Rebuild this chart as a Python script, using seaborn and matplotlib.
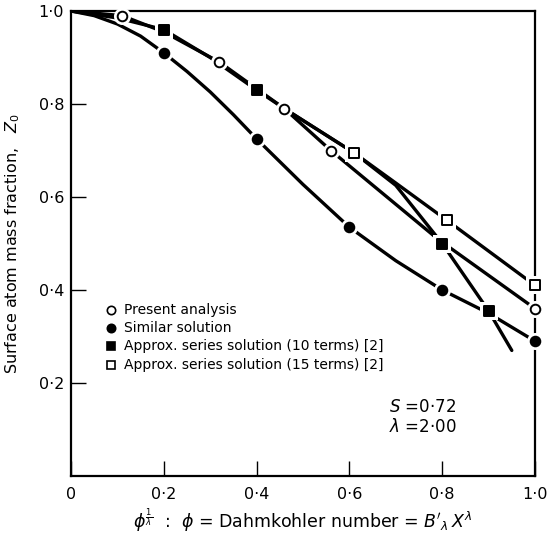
import matplotlib
matplotlib.use("Agg")
import matplotlib.pyplot as plt
import seaborn as sns
import pandas as pd

# ---- data ----
# Present analysis (open circles)
present_mx = [0.11, 0.32, 0.46, 0.56, 1.0]
present_my = [0.99, 0.89, 0.79, 0.70, 0.36]
present_lx = [0.0, 0.11, 0.2, 0.32, 0.46, 0.56, 0.79, 1.0]
present_ly = [1.0, 0.99, 0.955, 0.89, 0.79, 0.70, 0.51, 0.36]

# Similar solution (filled circles)
similar_mx = [0.2, 0.4, 0.6, 0.8, 1.0]
similar_my = [0.91, 0.725, 0.535, 0.40, 0.29]
similar_lx = [0.0, 0.05, 0.1, 0.15, 0.2, 0.25, 0.3, 0.35, 0.4, 0.5, 0.6, 0.7, 0.8, 0.9, 1.0]
similar_ly = [1.0, 0.99, 0.972, 0.946, 0.91, 0.87, 0.826, 0.777, 0.725, 0.627, 0.535, 0.463, 0.40, 0.35, 0.29]

# Approx. series solution, 10 terms (filled squares)
ten_mx = [0.2, 0.4, 0.8, 0.9]
ten_my = [0.96, 0.83, 0.50, 0.355]
ten_lx = [0.0, 0.1, 0.2, 0.3, 0.4, 0.46, 0.61, 0.70, 0.8, 0.9, 0.95]
ten_ly = [1.0, 0.985, 0.96, 0.9, 0.83, 0.79, 0.695, 0.625, 0.50, 0.355, 0.27]

# Approx. series solution, 15 terms (open squares)
fif_mx = [0.61, 0.81, 1.0]
fif_my = [0.695, 0.55, 0.41]
fif_lx = [0.46, 0.61, 0.70, 0.81, 1.0]
fif_ly = [0.79, 0.695, 0.63, 0.55, 0.41]

xticks = [0.0, 0.2, 0.4, 0.6, 0.8, 1.0]
xtick_labels = ["0", "0·2", "0·4", "0·6", "0·8", "1·0"]
yticks = [0.2, 0.4, 0.6, 0.8, 1.0]
ytick_labels = ["0·2", "0·4", "0·6", "0·8", "1·0"]

legend_labels = ["Present analysis", "Similar solution",
                 "Approx. series solution (10 terms) [2]",
                 "Approx. series solution (15 terms) [2]"]

sns.set_style("ticks")
plt.rcParams['font.family'] = ['DejaVu Sans']
plt.rcParams['text.color'] = 'black'
plt.rcParams['axes.labelcolor'] = 'black'

fig = plt.figure(figsize=(5.53, 5.33), dpi=100)
ax = fig.add_axes([71/553, 1 - 476/533, (535-71)/553, (476-11)/533])

lw = 2.4
for lx, ly in [(present_lx, present_ly), (similar_lx, similar_ly),
               (ten_lx, ten_ly), (fif_lx, fif_ly)]:
    df = pd.DataFrame({"x": lx, "y": ly})
    sns.lineplot(data=df, x="x", y="y", ax=ax, color="black", lw=lw,
                 sort=False, estimator=None, zorder=2)

# white halos to make gaps around markers
for mx, my, mk in [(present_mx, present_my, "o"), (similar_mx, similar_my, "o"),
                   (ten_mx, ten_my, "s"), (fif_mx, fif_my, "s")]:
    df = pd.DataFrame({"x": mx, "y": my})
    sns.scatterplot(data=df, x="x", y="y", ax=ax, marker=mk, s=150,
                    color="white", edgecolor="white", linewidth=0,
                    zorder=3, clip_on=False)

styles = [
    (present_mx, present_my, "o", "white"),
    (similar_mx, similar_my, "o", "black"),
    (ten_mx, ten_my, "s", "black"),
    (fif_mx, fif_my, "s", "white"),
]
for mx, my, mk, fc in styles:
    df = pd.DataFrame({"x": mx, "y": my})
    sns.scatterplot(data=df, x="x", y="y", ax=ax, marker=mk, s=48,
                    color=fc, edgecolor="black", linewidth=1.4,
                    zorder=4, clip_on=False)

ax.set_xlim(0, 1.0)
ax.set_ylim(0, 1.0)
ax.set_xticks(xticks)
ax.set_xticklabels(xtick_labels, fontsize=11.5)
ax.set_yticks(yticks)
ax.set_yticklabels(ytick_labels, fontsize=11.5)
ax.tick_params(direction="in", length=11, width=1.0, pad=8, colors="black")
ax.tick_params(axis="y", pad=5)
for sp in ax.spines.values():
    sp.set_linewidth(1.6)
    sp.set_color("black")

ax.set_xlabel(r"$\phi^{\frac{1}{\lambda}}$  :  $\phi$ = Dahmkohler number = $B'_{\lambda}\,X^{\lambda}$",
              fontsize=12.5, labelpad=3)
ax.set_ylabel(r"Surface atom mass fraction,   $Z_0$", fontsize=11.5, labelpad=12)

# legend drawn as marker + text rows
leg_x = 0.086
leg_ys = [0.357, 0.318, 0.280, 0.239]
leg_mk = [("o", "white"), ("o", "black"), ("s", "black"), ("s", "white")]
for ly, (mk, fc), lab in zip(leg_ys, leg_mk, legend_labels):
    ax.plot([leg_x], [ly], marker=mk, ms=6, mfc=fc, mec="black", mew=1.2,
            ls="none", zorder=5)
    ax.text(leg_x + 0.028, ly, lab, fontsize=10, va="center", ha="left")

ax.text(0.685, 0.148, r"$S$ =0·72", fontsize=12, va="center", ha="left")
ax.text(0.685, 0.105, r"$\lambda$ =2·00", fontsize=12, va="center", ha="left")

fig.savefig("out.png", dpi=100)
